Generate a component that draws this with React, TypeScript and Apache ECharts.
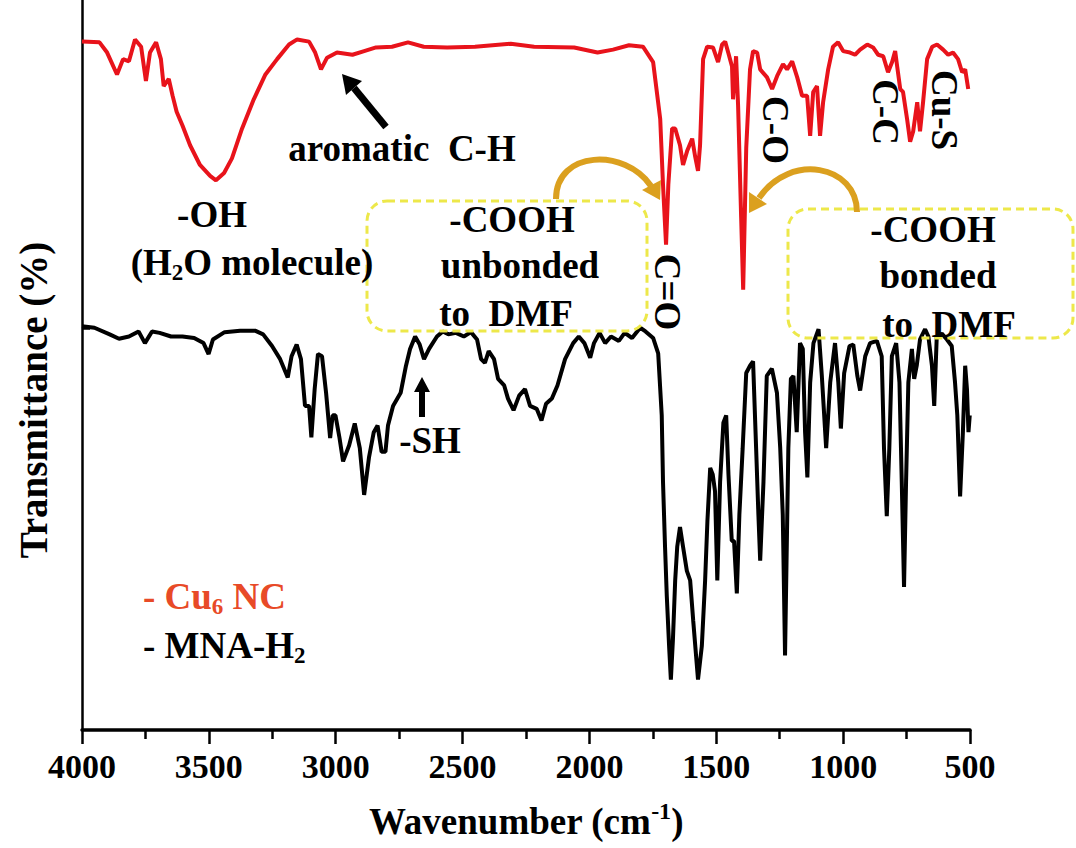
import React, { useEffect, useRef } from "react";
import * as echarts from "echarts";

// Cu6 NC spectrum (red): wavenumber (cm-1) and transmittance (a.u., %)
const cu6Wavenumber = [
  4000, 3931, 3901, 3862, 3838, 3815, 3791, 3767, 3748, 3732, 3708, 3689, 3678, 3658, 3643, 3627,
  3604, 3574, 3535, 3495, 3472, 3440, 3409, 3369, 3323, 3277, 3231, 3184, 3152, 3105, 3081, 3058,
  3034, 2995, 2934, 2888, 2841, 2778, 2715, 2653, 2561, 2451, 2310, 2218, 2060, 1968, 1907, 1844,
  1789, 1749, 1721, 1710, 1698, 1689, 1674, 1662, 1643, 1631, 1615, 1595, 1584, 1572, 1564, 1552,
  1536, 1513, 1493, 1477, 1465, 1453, 1438, 1434, 1422, 1414, 1402, 1394, 1382, 1367, 1355, 1339,
  1327, 1300, 1280, 1260, 1237, 1221, 1201, 1181, 1162, 1142, 1130, 1118, 1103, 1091, 1079, 1059,
  1040, 1020, 1000, 973, 953, 933, 905, 882, 862, 842, 823, 807, 795, 787, 775, 764,
  748, 736, 724, 708, 697, 685, 669, 649, 630, 606, 586, 567, 547, 531, 519, 507,
];
const cu6Transmittance = [
  94.3, 94.2, 92.8, 89.8, 91.9, 91.6, 94.6, 93.6, 88.9, 92.8, 94.2, 91.9, 88.2, 89.2, 86.9, 84.7,
  82.8, 80.1, 77.4, 75.9, 75.3, 76.3, 78.3, 82.4, 86.4, 89.8, 91.9, 93.9, 94.6, 94.3, 92.8, 90.5,
  92.1, 92.8, 92.5, 93.0, 93.5, 93.6, 94.2, 93.6, 93.5, 93.6, 94.0, 93.6, 93.5, 92.8, 93.2, 93.8,
  93.6, 91.5, 83.7, 74.7, 66.5, 74.7, 82.4, 82.4, 80.1, 77.4, 79.3, 81.0, 78.7, 76.6, 80.1, 91.9,
  93.6, 93.5, 91.5, 93.9, 94.3, 92.8, 90.9, 86.4, 92.3, 85.5, 70.2, 60.3, 79.7, 90.5, 93.0, 92.8,
  90.5, 89.4, 87.8, 89.6, 91.2, 90.5, 91.6, 89.4, 86.9, 86.9, 81.4, 87.4, 88.2, 81.4, 86.0, 90.5,
  93.6, 94.2, 93.0, 92.8, 92.5, 93.2, 93.9, 93.5, 92.5, 92.3, 90.1, 91.5, 93.0, 90.9, 87.8, 87.4,
  83.7, 80.6, 82.0, 86.0, 82.0, 86.0, 91.9, 93.6, 93.9, 93.2, 92.5, 92.8, 91.9, 90.1, 90.5, 87.8,
];

// MNA-H2 spectrum (black)
const mnaWavenumber = [
  4000, 3951, 3891, 3854, 3815, 3777, 3752, 3724, 3694, 3649, 3604, 3558, 3521, 3501, 3484, 3438,
  3377, 3318, 3286, 3251, 3219, 3189, 3174, 3154, 3137, 3121, 3105, 3096, 3083, 3070, 3054, 3038,
  3022, 3012, 3001, 2985, 2971, 2947, 2925, 2905, 2888, 2869, 2850, 2835, 2819, 2804, 2794, 2774,
  2744, 2723, 2707, 2687, 2669, 2652, 2632, 2601, 2578, 2556, 2526, 2495, 2467, 2443, 2427, 2412,
  2397, 2376, 2360, 2336, 2321, 2299, 2277, 2254, 2234, 2208, 2189, 2171, 2148, 2126, 2096, 2064,
  2042, 2020, 1997, 1982, 1960, 1938, 1915, 1884, 1861, 1832, 1800, 1779, 1749, 1729, 1715, 1710,
  1702, 1695, 1686, 1679, 1671, 1662, 1654, 1643, 1631, 1616, 1603, 1591, 1572, 1557, 1544, 1535,
  1524, 1514, 1505, 1496, 1485, 1472, 1461, 1452, 1439, 1430, 1419, 1409, 1396, 1382, 1367, 1355,
  1343, 1334, 1327, 1314, 1301, 1281, 1261, 1248, 1238, 1229, 1216, 1206, 1196, 1183, 1170, 1159,
  1150, 1141, 1130, 1117, 1097, 1084, 1067, 1051, 1032, 1019, 1009, 996, 975, 960, 944, 933,
  913, 894, 867, 848, 839, 828, 818, 808, 791, 778, 769, 760, 752, 743, 729, 720,
  710, 697, 677, 664, 650, 641, 631, 611, 591, 572, 559, 550, 539, 528, 519, 512,
  506, 501,
];
const mnaTransmittance = [
  55.3, 55.1, 54.2, 53.6, 53.9, 54.6, 53.0, 54.6, 54.4, 53.9, 53.9, 53.7, 53.0, 51.5, 53.5, 54.5,
  54.7, 54.7, 54.2, 52.6, 50.8, 48.3, 51.2, 52.8, 50.8, 44.4, 44.4, 40.1, 46.7, 51.5, 51.2, 46.2,
  40.0, 43.1, 43.1, 40.0, 36.8, 39.0, 42.0, 38.6, 32.2, 37.3, 40.8, 41.7, 38.1, 38.1, 41.7, 44.4,
  46.2, 49.9, 52.2, 53.9, 52.8, 50.8, 52.2, 53.9, 54.6, 54.2, 54.4, 53.9, 54.5, 53.5, 50.8, 50.3,
  51.9, 50.8, 48.1, 47.2, 45.4, 43.8, 45.8, 46.7, 44.4, 44.0, 42.4, 44.7, 45.4, 47.2, 50.8, 53.0,
  53.9, 53.0, 51.0, 53.0, 54.4, 53.0, 53.9, 53.3, 54.4, 53.7, 55.1, 54.6, 53.7, 51.6, 43.1, 34.0,
  25.1, 18.3, 11.5, 6.9, 12.3, 20.5, 25.1, 27.8, 25.1, 21.8, 20.5, 15.0, 6.9, 11.5, 20.5, 28.6,
  35.9, 35.0, 32.7, 20.5, 34.0, 42.1, 43.1, 35.0, 25.9, 25.9, 18.7, 29.5, 38.6, 48.9, 49.9, 50.5,
  38.6, 29.5, 23.2, 34.0, 48.5, 49.5, 46.2, 38.6, 29.5, 10.2, 38.6, 48.1, 48.5, 40.8, 53.0, 52.2,
  40.8, 34.6, 47.6, 53.0, 54.9, 48.5, 38.6, 47.6, 53.0, 47.6, 41.3, 48.9, 52.6, 52.8, 48.5, 46.5,
  51.2, 53.0, 53.3, 51.2, 38.6, 29.3, 38.6, 51.2, 53.0, 47.6, 34.0, 19.6, 34.0, 47.6, 52.2, 48.1,
  49.9, 53.5, 54.9, 53.9, 49.9, 44.4, 53.9, 54.3, 53.5, 52.6, 47.6, 43.1, 32.0, 40.8, 49.9, 46.7,
  40.8, 43.1,
];

const xMin = 500;
const xMax = 4000;
const xInterval = 500;

const FONT = '"Liberation Serif", "Times New Roman", serif';
const RED = "#e8131b";
const LEGEND_RED = "#e84a27";
const YELLOW = "#ede84a";
const GOLD = "#dba01f";

function txt(text: string, x: number, y: number, opts: any = {}) {
  return {
    type: "text",
    x,
    y,
    rotation: opts.rotation || 0,
    z: 100,
    style: {
      text,
      fill: opts.fill || "#000",
      fontFamily: FONT,
      fontWeight: "bold",
      fontSize: opts.size || 37,
      align: opts.align || "center",
      verticalAlign: "middle",
      lineHeight: opts.lineHeight,
      rich: opts.rich,
    },
  };
}

function subRich(size: number, fill: string) {
  return {
    sub: {
      fontFamily: FONT,
      fontWeight: "bold",
      fontSize: Math.round(size * 0.62),
      lineHeight: Math.round(size * 0.62),
      verticalAlign: "bottom",
      fill,
    },
  };
}

export default function App() {
  const ref = useRef<HTMLDivElement>(null);

  useEffect(() => {
    if (!ref.current) return;
    const chart = echarts.init(ref.current, undefined, { renderer: "svg" });

    const cu6Data = cu6Wavenumber.map((w, i) => [w, cu6Transmittance[i]]);
    const mnaData = mnaWavenumber.map((w, i) => [w, mnaTransmittance[i]]);

    const boxStyle = {
      fill: "none",
      stroke: YELLOW,
      lineWidth: 3,
      lineDash: [8, 5],
    };

    const graphic: any[] = [
      // y-axis title
      txt("Transmittance (%)", 33, 400, { size: 39, rotation: Math.PI / 2 }),
      // aromatic C-H
      txt("aromatic  C-H", 402, 148, { size: 37 }),
      {
        type: "line",
        z: 100,
        shape: { x1: 386, y1: 127, x2: 354, y2: 88 },
        style: { stroke: "#000", lineWidth: 7 },
      },
      {
        type: "polygon",
        z: 100,
        shape: { points: [[342, 74], [362, 81], [346, 95]] },
        style: { fill: "#000" },
      },
      // -OH
      txt("-OH", 212, 214, { size: 37 }),
      txt("(H{sub|2}O molecule)", 252, 262, {
        size: 37,
        lineHeight: 44,
        rich: subRich(37, "#000"),
      }),
      // box 1
      {
        type: "rect",
        z: 90,
        shape: { x: 367, y: 201, width: 280, height: 130, r: 20 },
        style: boxStyle,
      },
      txt("-COOH", 512, 219),
      txt("unbonded", 520, 265),
      txt("to  DMF", 506, 313),
      // C=O
      txt("C=O", 667, 292, { rotation: -Math.PI / 2 }),
      // C-O, C-C, Cu-S
      txt("C-O", 775, 130, { rotation: -Math.PI / 2 }),
      txt("C-C", 885, 112, { rotation: -Math.PI / 2 }),
      txt("Cu-S", 944, 110, { rotation: -Math.PI / 2 }),
      // box 2
      {
        type: "rect",
        z: 90,
        shape: { x: 788, y: 209, width: 285, height: 129, r: 20 },
        style: boxStyle,
      },
      txt("-COOH", 933, 229),
      txt("bonded", 938, 275),
      txt("to  DMF", 949, 324),
      // gold curved arrows
      {
        type: "bezierCurve",
        z: 95,
        shape: { x1: 556, y1: 199, cpx1: 556, cpy1: 150, cpx2: 625, cpy2: 148, x2: 651, y2: 186 },
        style: { stroke: GOLD, lineWidth: 6, fill: "none" },
      },
      {
        type: "polygon",
        z: 95,
        shape: { points: [[660, 200], [642, 190], [661, 180]] },
        style: { fill: GOLD },
      },
      {
        type: "bezierCurve",
        z: 95,
        shape: { x1: 857, y1: 212, cpx1: 857, cpy1: 165, cpx2: 790, cpy2: 152, x2: 759, y2: 198 },
        style: { stroke: GOLD, lineWidth: 6, fill: "none" },
      },
      {
        type: "polygon",
        z: 95,
        shape: { points: [[749, 213], [749, 192], [767, 204]] },
        style: { fill: GOLD },
      },
      // -SH
      txt("-SH", 430, 440),
      {
        type: "line",
        z: 100,
        shape: { x1: 422, y1: 417, x2: 422, y2: 390 },
        style: { stroke: "#000", lineWidth: 6 },
      },
      {
        type: "polygon",
        z: 100,
        shape: { points: [[422, 377], [414, 392], [430, 392]] },
        style: { fill: "#000" },
      },
      // legend
      txt("- Cu{sub|6} NC", 143, 596, {
        size: 37,
        align: "left",
        fill: LEGEND_RED,
        lineHeight: 44,
        rich: subRich(37, LEGEND_RED),
      }),
      txt("- MNA-H{sub|2}", 143, 645, {
        size: 37,
        align: "left",
        lineHeight: 44,
        rich: subRich(37, "#000"),
      }),
    ];

    chart.setOption({
      animation: false,
      backgroundColor: "#fff",
      grid: { left: 82, right: 106, top: 0, bottom: 110 },
      xAxis: {
        type: "value",
        min: xMin,
        max: xMax,
        interval: xInterval,
        inverse: true,
        name: "Wavenumber (cm{sup|-1})",
        nameLocation: "middle",
        nameGap: 69,
        nameTextStyle: {
          color: "#000",
          fontFamily: FONT,
          fontWeight: "bold",
          fontSize: 37,
          lineHeight: 44,
          rich: {
            sup: {
              fontFamily: FONT,
              fontWeight: "bold",
              fontSize: 24,
              lineHeight: 24,
              verticalAlign: "top",
              color: "#000",
            },
          },
        },
        axisLine: { show: true, onZero: false, lineStyle: { color: "#000", width: 3.5 } },
        axisTick: { show: true, inside: false, length: 14, lineStyle: { color: "#000", width: 2.5 } },
        minorTick: { show: true, splitNumber: 2, length: 9, lineStyle: { color: "#000", width: 2.5 } },
        splitLine: { show: false },
        minorSplitLine: { show: false },
        axisLabel: {
          color: "#000",
          fontFamily: FONT,
          fontWeight: "bold",
          fontSize: 34,
          margin: 19,
          formatter: (v: number) => String(v),
        },
      },
      yAxis: {
        type: "value",
        min: 0,
        max: 100,
        axisLine: { show: true, onZero: false, lineStyle: { color: "#000", width: 2.5 } },
        axisTick: { show: true, inside: true, length: 8, customValues: [55], lineStyle: { color: "#000", width: 2.5 } },
        axisLabel: { show: false },
        splitLine: { show: false },
      },
      series: [
        {
          name: "Cu6 NC",
          type: "line",
          data: cu6Data,
          showSymbol: false,
          lineStyle: { color: RED, width: 4 },
          itemStyle: { color: RED },
          z: 3,
        },
        {
          name: "MNA-H2",
          type: "line",
          data: mnaData,
          showSymbol: false,
          lineStyle: { color: "#000", width: 4 },
          itemStyle: { color: "#000" },
          z: 2,
        },
      ],
      graphic,
    });

    return () => chart.dispose();
  }, []);

  return (
    <div
      ref={ref}
      style={{ position: "fixed", left: 0, top: 0, width: 1076, height: 848, background: "#fff" }}
    />
  );
}
